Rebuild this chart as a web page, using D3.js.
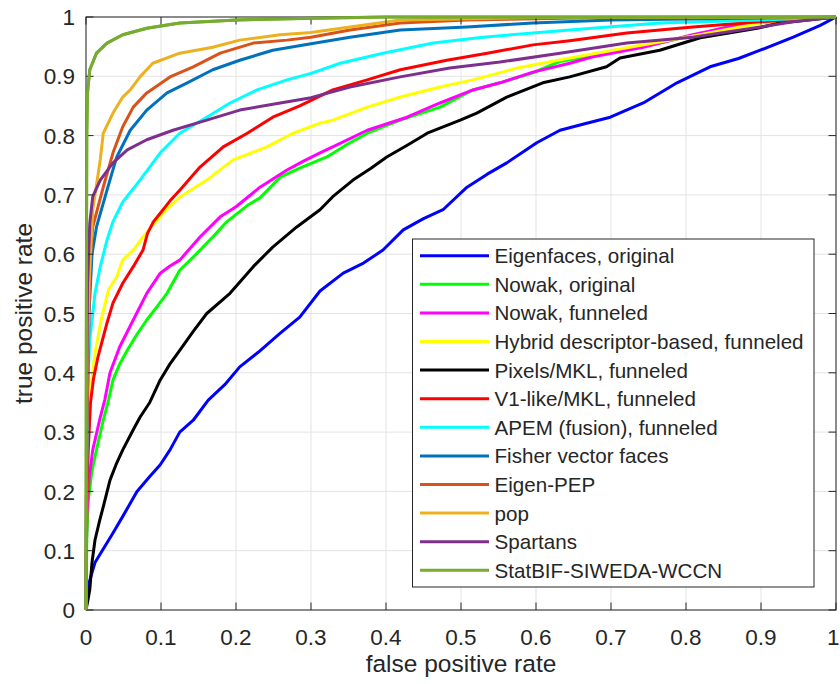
<!DOCTYPE html>
<html><head><meta charset="utf-8">
<script src="https://cdn.jsdelivr.net/npm/d3@7"></script>
<style>body{margin:0;background:#fff}svg{display:block}text{font-family:"Liberation Sans",Arial,Helvetica,sans-serif;fill:#262626}</style>
</head><body><svg id="c" width="840" height="684"></svg>
<script>
const seriesNames = ["Eigenfaces, original","Nowak, original","Nowak, funneled","Hybrid descriptor-based, funneled","Pixels/MKL, funneled","V1-like/MKL, funneled","APEM (fusion), funneled","Fisher vector faces","Eigen-PEP","pop","Spartans","StatBIF-SIWEDA-WCCN"];
const seriesColors = ["#0000FF","#00FF00","#FF00FF","#FFFF00","#000000","#FF0000","#00FFFF","#0072BD","#D95319","#EDB120","#7E2F8E","#77AC30"];
const xTicks = [0,0.1,0.2,0.3,0.4,0.5,0.6,0.7,0.8,0.9,1];
const yTicks = [0,0.1,0.2,0.3,0.4,0.5,0.6,0.7,0.8,0.9,1];
const xTickLabels = ["0","0.1","0.2","0.3","0.4","0.5","0.6","0.7","0.8","0.9","1"];
const yTickLabels = ["0","0.1","0.2","0.3","0.4","0.5","0.6","0.7","0.8","0.9","1"];

const eigenfaces = [[0,0],[0.002,0.03],[0.005,0.05],[0.012,0.08],[0.024,0.105],[0.036,0.13],[0.05,0.16],[0.068,0.2],[0.085,0.225],[0.099,0.245],[0.112,0.27],[0.125,0.3],[0.143,0.32],[0.163,0.354],[0.185,0.38],[0.205,0.41],[0.23,0.435],[0.259,0.467],[0.285,0.494],[0.312,0.538],[0.343,0.568],[0.37,0.585],[0.396,0.607],[0.423,0.641],[0.45,0.66],[0.476,0.675],[0.508,0.713],[0.535,0.735],[0.561,0.754],[0.601,0.788],[0.632,0.809],[0.665,0.82],[0.699,0.831],[0.743,0.855],[0.788,0.889],[0.832,0.916],[0.87,0.93],[0.899,0.944],[0.943,0.966],[0.979,0.986],[1,1]];
const nowakOriginal = [[0,0],[0.001,0.12],[0.003,0.185],[0.008,0.235],[0.014,0.27],[0.023,0.32],[0.03,0.354],[0.036,0.388],[0.045,0.415],[0.055,0.438],[0.068,0.465],[0.081,0.489],[0.095,0.512],[0.108,0.534],[0.125,0.573],[0.143,0.595],[0.169,0.629],[0.188,0.655],[0.215,0.682],[0.232,0.695],[0.259,0.73],[0.285,0.745],[0.321,0.764],[0.348,0.785],[0.375,0.804],[0.419,0.826],[0.472,0.848],[0.516,0.877],[0.552,0.889],[0.596,0.906],[0.632,0.925],[0.7,0.94],[0.76,0.955],[0.82,0.972],[0.876,0.99],[0.93,0.996],[1,1]];
const nowakFunneled = [[0,0],[0.001,0.157],[0.004,0.22],[0.009,0.27],[0.019,0.325],[0.025,0.354],[0.032,0.4],[0.045,0.444],[0.063,0.489],[0.081,0.534],[0.099,0.568],[0.112,0.58],[0.125,0.59],[0.152,0.629],[0.179,0.663],[0.2,0.68],[0.232,0.713],[0.268,0.742],[0.29,0.757],[0.312,0.771],[0.329,0.781],[0.375,0.809],[0.428,0.831],[0.472,0.855],[0.516,0.877],[0.552,0.889],[0.596,0.907],[0.645,0.922],[0.676,0.933],[0.743,0.949],[0.809,0.97],[0.868,0.986],[0.93,0.995],[1,1]];
const hybrid = [[0,0],[0.001,0.2],[0.002,0.28],[0.005,0.34],[0.008,0.39],[0.012,0.433],[0.021,0.494],[0.03,0.54],[0.041,0.562],[0.049,0.59],[0.063,0.607],[0.076,0.629],[0.09,0.65],[0.105,0.672],[0.125,0.696],[0.161,0.725],[0.196,0.759],[0.241,0.781],[0.276,0.804],[0.312,0.821],[0.329,0.826],[0.375,0.848],[0.419,0.865],[0.472,0.882],[0.516,0.894],[0.575,0.914],[0.645,0.931],[0.721,0.948],[0.819,0.97],[0.899,0.99],[0.95,0.997],[1,1]];
const pixelsMKL = [[0,0],[0.003,0.02],[0.005,0.034],[0.008,0.08],[0.012,0.118],[0.018,0.15],[0.023,0.174],[0.032,0.219],[0.04,0.245],[0.049,0.27],[0.063,0.304],[0.072,0.325],[0.085,0.35],[0.099,0.388],[0.112,0.415],[0.125,0.438],[0.143,0.47],[0.161,0.5],[0.192,0.534],[0.223,0.579],[0.249,0.612],[0.281,0.646],[0.312,0.675],[0.329,0.697],[0.356,0.725],[0.38,0.745],[0.401,0.764],[0.43,0.785],[0.455,0.804],[0.499,0.826],[0.521,0.838],[0.561,0.865],[0.609,0.889],[0.645,0.899],[0.694,0.916],[0.712,0.931],[0.765,0.944],[0.819,0.965],[0.895,0.981],[0.925,0.99],[1,1]];
const v1MKL = [[0,0],[0.001,0.18],[0.003,0.27],[0.006,0.35],[0.01,0.39],[0.016,0.427],[0.028,0.484],[0.036,0.518],[0.049,0.551],[0.063,0.579],[0.076,0.607],[0.082,0.635],[0.09,0.655],[0.099,0.669],[0.112,0.69],[0.125,0.708],[0.152,0.747],[0.183,0.781],[0.215,0.804],[0.249,0.831],[0.285,0.85],[0.329,0.877],[0.375,0.894],[0.419,0.911],[0.481,0.927],[0.535,0.939],[0.596,0.953],[0.645,0.96],[0.721,0.973],[0.809,0.983],[0.899,0.992],[1,1]];
const apem = [[0,0],[0.001,0.25],[0.003,0.4],[0.005,0.455],[0.012,0.534],[0.019,0.579],[0.028,0.624],[0.036,0.655],[0.049,0.688],[0.072,0.725],[0.099,0.771],[0.125,0.804],[0.161,0.831],[0.192,0.855],[0.228,0.877],[0.268,0.894],[0.3,0.905],[0.339,0.922],[0.396,0.939],[0.463,0.956],[0.529,0.966],[0.596,0.973],[0.645,0.978],[0.765,0.99],[0.899,0.995],[1,1]];
const fisher = [[0,0],[0.001,0.3],[0.004,0.5],[0.008,0.6],[0.014,0.646],[0.028,0.708],[0.041,0.764],[0.059,0.809],[0.081,0.843],[0.108,0.872],[0.135,0.889],[0.169,0.911],[0.205,0.927],[0.249,0.944],[0.3,0.955],[0.352,0.966],[0.419,0.978],[0.508,0.983],[0.596,0.99],[0.7,0.995],[1,1]];
const eigenPEP = [[0,0],[0.001,0.3],[0.004,0.5],[0.006,0.6],[0.009,0.646],[0.023,0.713],[0.036,0.771],[0.049,0.815],[0.063,0.848],[0.081,0.872],[0.112,0.899],[0.143,0.916],[0.179,0.939],[0.223,0.956],[0.268,0.961],[0.3,0.966],[0.352,0.978],[0.419,0.99],[0.508,0.995],[0.7,0.999],[1,1]];
const pop = [[0,0],[0.001,0.35],[0.004,0.55],[0.009,0.675],[0.019,0.759],[0.023,0.804],[0.036,0.838],[0.049,0.865],[0.059,0.877],[0.072,0.899],[0.089,0.922],[0.125,0.939],[0.169,0.949],[0.205,0.961],[0.259,0.97],[0.3,0.974],[0.352,0.983],[0.419,0.995],[0.6,0.999],[1,1]];
const spartans = [[0,0],[0.001,0.35],[0.002,0.55],[0.005,0.652],[0.009,0.697],[0.019,0.725],[0.036,0.754],[0.055,0.776],[0.081,0.793],[0.116,0.809],[0.161,0.826],[0.205,0.843],[0.259,0.855],[0.3,0.864],[0.352,0.882],[0.419,0.899],[0.485,0.914],[0.552,0.924],[0.632,0.939],[0.721,0.956],[0.809,0.966],[0.899,0.983],[0.943,0.992],[1,1]];
const statBIF = [[0,0],[0.0005,0.5],[0.001,0.8],[0.002,0.872],[0.005,0.911],[0.014,0.939],[0.028,0.956],[0.049,0.97],[0.081,0.981],[0.125,0.99],[0.201,0.995],[0.303,0.998],[0.4,1],[1,1]];

const seriesData = [eigenfaces,nowakOriginal,nowakFunneled,hybrid,pixelsMKL,v1MKL,apem,fisher,eigenPEP,pop,spartans,statBIF];

const L = 86, R = 836, T = 17, B = 610;
const svg = d3.select("#c");
const x = d3.scaleLinear().domain([0,1]).range([L,R]);
const y = d3.scaleLinear().domain([0,1]).range([B,T]);
const tickLen = 7.5;
const axisCol = "#262626";

// grid
const g = svg.append("g");
g.selectAll("line.gx").data(xTicks).enter().append("line")
  .attr("x1",d=>x(d)).attr("x2",d=>x(d)).attr("y1",T).attr("y2",B)
  .attr("stroke","#e3e3e3").attr("stroke-width",1);
g.selectAll("line.gy").data(yTicks).enter().append("line")
  .attr("y1",d=>y(d)).attr("y2",d=>y(d)).attr("x1",L).attr("x2",R)
  .attr("stroke","#e3e3e3").attr("stroke-width",1);

// curves
const line = d3.line().x(d=>x(d[0])).y(d=>y(d[1]));
svg.append("g").selectAll("path").data(seriesData).enter().append("path")
  .attr("d",line).attr("fill","none")
  .attr("stroke",(d,i)=>seriesColors[i]).attr("stroke-width",3)
  .attr("stroke-linejoin","round");

// ticks (inward on all sides)
const tk = svg.append("g").attr("stroke",axisCol).attr("stroke-width",1);
xTicks.forEach(v=>{
  tk.append("line").attr("x1",x(v)).attr("x2",x(v)).attr("y1",B).attr("y2",B-tickLen);
  tk.append("line").attr("x1",x(v)).attr("x2",x(v)).attr("y1",T).attr("y2",T+tickLen);
});
yTicks.forEach(v=>{
  tk.append("line").attr("y1",y(v)).attr("y2",y(v)).attr("x1",L).attr("x2",L+tickLen);
  tk.append("line").attr("y1",y(v)).attr("y2",y(v)).attr("x1",R).attr("x2",R-tickLen);
});
// box
svg.append("rect").attr("x",L).attr("y",T).attr("width",R-L).attr("height",B-T)
  .attr("fill","none").attr("stroke",axisCol).attr("stroke-width",1);
// redraw statBIF on top of axes
svg.append("path").datum(statBIF).attr("d",line).attr("fill","none")
  .attr("stroke",seriesColors[11]).attr("stroke-width",3).attr("stroke-linejoin","round");

// tick labels
svg.append("g").selectAll("text").data(xTicks).enter().append("text")
  .attr("x",d=>d===1 ? 839.5 : x(d)).attr("y",645)
  .attr("text-anchor",d=>d===1 ? "end" : "middle")
  .style("font-size","22.5px").text((d,i)=>xTickLabels[i]);
svg.append("g").selectAll("text").data(yTicks).enter().append("text")
  .attr("x",75).attr("y",d=>y(d)).attr("dy","0.36em").attr("text-anchor","end")
  .style("font-size","22.5px").text((d,i)=>yTickLabels[i]);

// axis labels
svg.append("text").attr("x",(L+R)/2).attr("y",672).attr("text-anchor","middle")
  .style("font-size","24.5px").text("false positive rate");
svg.append("text").attr("transform",`translate(32,${(T+B)/2}) rotate(-90)`)
  .attr("text-anchor","middle").style("font-size","24.5px").text("true positive rate");

// legend
const lg = svg.append("g");
lg.append("rect").attr("x",412.5).attr("y",239).attr("width",401.5).attr("height",348)
  .attr("fill","#fff").attr("stroke",axisCol).attr("stroke-width",1);
const rowY = i => 255.7 + i*28.6;
seriesNames.forEach((n,i)=>{
  lg.append("line").attr("x1",420).attr("x2",489).attr("y1",rowY(i)).attr("y2",rowY(i))
    .attr("stroke",seriesColors[i]).attr("stroke-width",3);
  lg.append("text").attr("x",494.5).attr("y",rowY(i)).attr("dy","0.36em")
    .style("font-size","20.6px").text(n);
});
</script></body></html>
